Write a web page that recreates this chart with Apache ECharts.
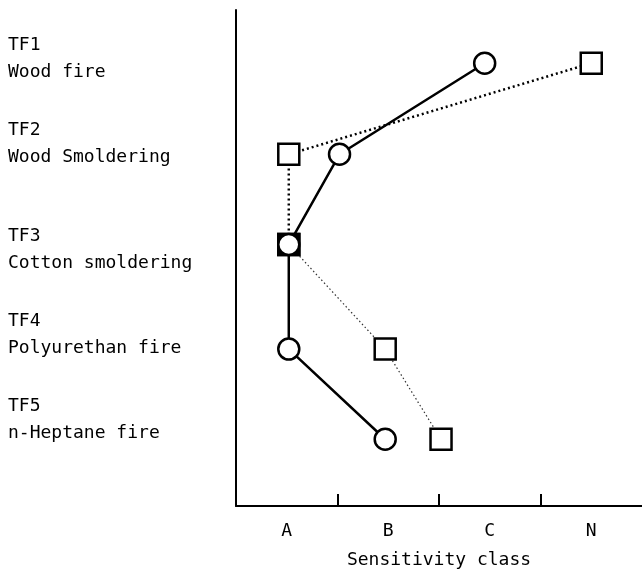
<!DOCTYPE html>
<html>
<head>
<meta charset="utf-8">
<script src="https://cdn.jsdelivr.net/npm/echarts@6/dist/echarts.min.js"></script>
<style>
  html, body { margin: 0; padding: 0; background: #fff; }
  #chart { width: 642px; height: 577px; }
</style>
</head>
<body>
<div id="chart"></div>
<script>
// sensitivity classes along the bottom
const classes = ['A', 'B', 'C', 'N']
// boundaries between classes, where the axis ticks sit
const classBounds = [0.5, 1.5, 2.5]
// test fires, one row each (row position, 0 = top of the frame)
const fireNames = ['TF1\nWood fire', 'TF2\nWood Smoldering', 'TF3\nCotton smoldering', 'TF4\nPolyurethan fire', 'TF5\nn-Heptane fire']
const fireLabelRows = [0.54, 1.48, 2.66, 3.60, 4.55]
const pointRows = [0.59, 1.60, 2.60, 3.76, 4.76]
// class reached by each detector (A = 0, B = 1, C = 2, N = 3)
const circleClass = [1.95, 0.52, 0.02, 0.02, 0.97]
const squareClass = [3.0, 0.02, 0.02, 0.97, 1.52]

const pts = (xs) => xs.map((x, i) => [x, pointRows[i]])
const squarePts = pts(squareClass)
squarePts[2] = { value: squarePts[2], itemStyle: { color: '#000' } }

const chart = echarts.init(document.getElementById('chart'))
const font = 'DejaVu Sans Mono'
const ink = '#000'

chart.setOption({
  animation: false,
  grid: { left: 236, top: 10, width: 412, height: 496 },
  xAxis: [
    {
      // labels only
      type: 'category',
      position: 'bottom',
      data: classes,
      boundaryGap: true,
      name: 'Sensitivity class',
      nameLocation: 'middle',
      nameGap: 45,
      nameTextStyle: { fontFamily: font, fontSize: 18, color: ink },
      axisLine: { show: false, onZero: false },
      axisTick: { show: false },
      axisLabel: { margin: 16, fontFamily: font, fontSize: 18, color: ink },
      splitLine: { show: false }
    },
    {
      // axis line and ticks, also the scale the marks are drawn on
      type: 'value',
      position: 'bottom',
      min: -0.5,
      max: 3.5,
      axisLine: { show: true, onZero: false, lineStyle: { color: ink, width: 2 } },
      axisTick: { show: true, inside: true, length: 12, customValues: classBounds, lineStyle: { color: ink, width: 2 } },
      axisLabel: { show: false },
      splitLine: { show: false }
    }
  ],
  yAxis: {
    type: 'value',
    inverse: true,
    min: 0,
    max: 5.5,
    axisLine: { show: true, onZero: false, lineStyle: { color: ink, width: 2 } },
    axisTick: { show: false },
    splitLine: { show: false },
    axisLabel: {
      customValues: fireLabelRows,
      formatter: (v) => fireNames[fireLabelRows.indexOf(v)] || '',
      align: 'left',
      margin: 228,
      fontFamily: font,
      fontSize: 18,
      lineHeight: 27,
      color: ink
    }
  },
  series: [
    {
      type: 'line',
      xAxisIndex: 1,
      data: squarePts.slice(0, 3),
      symbol: 'rect',
      symbolSize: 21,
      itemStyle: { color: '#fff', borderColor: ink, borderWidth: 2.5 },
      lineStyle: { color: ink, width: 2.5, type: [2, 3] },
      z: 2
    },
    {
      type: 'line',
      xAxisIndex: 1,
      data: squarePts.slice(2),
      symbol: 'rect',
      symbolSize: 21,
      itemStyle: { color: '#fff', borderColor: ink, borderWidth: 2.5 },
      lineStyle: { color: '#333', width: 1.2, type: [1.5, 2.5] },
      z: 2
    },
    {
      type: 'line',
      xAxisIndex: 1,
      data: pts(circleClass),
      symbol: 'circle',
      symbolSize: 21,
      itemStyle: { color: '#fff', borderColor: ink, borderWidth: 2.5 },
      lineStyle: { color: ink, width: 2.5 },
      z: 3
    }
  ]
})
</script>
</body>
</html>
